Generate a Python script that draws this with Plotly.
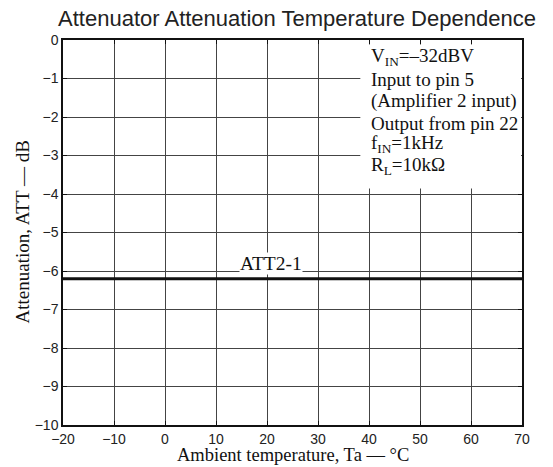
import plotly.graph_objects as go

temps = [-20, 70]
att2_1 = [-6.2, -6.2]
x_ticks = [-20, -10, 0, 10, 20, 30, 40, 50, 60, 70]
y_ticks = [0, -1, -2, -3, -4, -5, -6, -7, -8, -9, -10]
cond_lines = ["V<sub>IN</sub>=–32dBV", "Input to pin 5", "(Amplifier 2 input)",
              "Output from pin 22", "f<sub>IN</sub>=1kHz", "R<sub>L</sub>=10kΩ"]
cond_y = [-0.45, -1.02, -1.59, -2.16, -2.7, -3.28]

serif = "Liberation Serif, Times New Roman, serif"
sans = "Liberation Sans, Arial, sans-serif"

fig = go.Figure()
fig.add_trace(go.Scatter(x=temps, y=att2_1, mode="lines",
                         line=dict(color="#111", width=3), showlegend=False))

fig.add_annotation(x=20.7, y=-5.8, text="ATT2-1", showarrow=False,
                   font=dict(family=serif, size=19.5, color="#111"),
                   bgcolor="white", borderpad=0)

fig.add_shape(type="rect", xref="x", yref="y", x0=38.3, x1=69.85, y0=-0.12, y1=-3.86,
              fillcolor="white", line=dict(width=0), layer="above")
for t, yy in zip(cond_lines, cond_y):
    fig.add_annotation(x=40, y=yy, text=t, showarrow=False, xanchor="left",
                       font=dict(family=serif, size=19, color="#111"))

# axis titles
fig.add_annotation(xref="paper", yref="paper", x=0.5, y=0, yanchor="middle", yshift=-30,
                   text="Ambient temperature, Ta — °C", showarrow=False,
                   font=dict(family=serif, size=18.5, color="#111"))
fig.add_annotation(xref="paper", yref="paper", x=0, xanchor="center", xshift=-41,
                   y=0.5, text="Attenuation, ATT — dB", showarrow=False, textangle=-90,
                   font=dict(family=serif, size=19, color="#111"))

axis_common = dict(showgrid=True, gridcolor="#444", gridwidth=1,
                   showline=True, linecolor="#111", linewidth=1.5, mirror="allticks",
                   ticks="inside", ticklen=4, tickcolor="#111", zeroline=False,
                   tickfont=dict(family=sans, size=14, color="#222"))

fig.update_layout(
    width=553, height=467,
    margin=dict(l=63, r=31, t=40, b=42),
    paper_bgcolor="white", plot_bgcolor="white",
    title=dict(text="Attenuator Attenuation Temperature Dependence",
               font=dict(family=sans, size=22, color="#222"),
               x=0.537, xanchor="center", xref="container",
               y=1 - 18 / 467, yanchor="middle"),
    xaxis=dict(range=[-20, 70], tickvals=x_ticks,
               ticktext=[str(v).replace("-", "−") for v in x_ticks], **axis_common),
    yaxis=dict(range=[-10, 0], tickvals=y_ticks,
               ticktext=[str(v).replace("-", "−") for v in y_ticks], **axis_common),
)

fig.write_html("out.html")
